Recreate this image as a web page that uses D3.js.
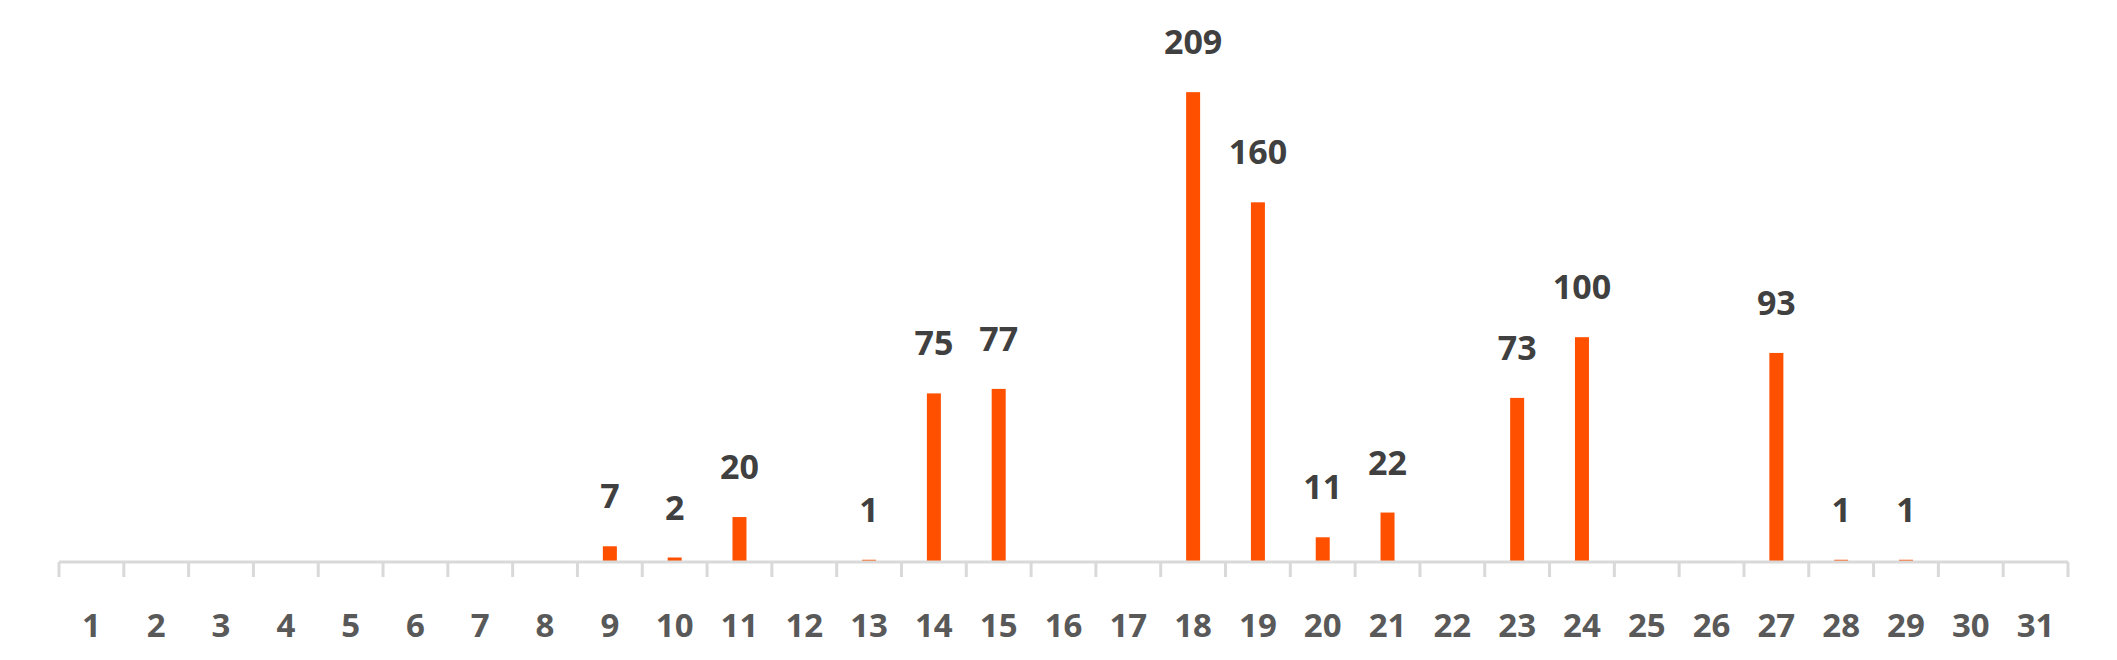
<!DOCTYPE html>
<html>

<head>
    <meta charset="UTF-8">
    <title>Daily counts</title>
    <script src="https://cdn.jsdelivr.net/npm/d3@7"></script>
    <style>
        body { margin: 0; background: #fff; }
        text { font-family: "Open Sans", sans-serif; font-weight: bold; }
    </style>
</head>

<body>
    <script>
        const days = d3.range(1, 32).map(String);
        const values = [0, 0, 0, 0, 0, 0, 0, 0, 7, 2, 20, 0, 1, 75, 77, 0, 0, 209, 160, 11, 22, 0, 73, 100, 0, 0, 93, 1, 1, 0, 0];

        const data = days.map((d, i) => ({ day: d, value: values[i] }));

        const width = 2117;
        const height = 660;
        const margin = { top: 0, right: 49, bottom: 98, left: 59 };

        const svg = d3.select('body')
            .append('svg')
            .attr('width', width)
            .attr('height', height);

        const x = d3.scaleBand()
            .domain(days)
            .range([margin.left, width - margin.right]);

        const y = d3.scaleLinear()
            .domain([0, 250])
            .range([height - margin.bottom, margin.top]);

        const barW = 14;

        svg.append('g')
            .selectAll('rect')
            .data(data.filter(d => d.value > 0))
            .join('rect')
            .attr('x', d => x(d.day) + x.bandwidth() / 2 - barW / 2)
            .attr('y', d => y(d.value))
            .attr('width', barW)
            .attr('height', d => y(0) - y(d.value))
            .attr('fill', '#ff5000');

        // axis line + ticks at band edges
        const axis = svg.append('g').attr('stroke', '#d9d9d9').attr('stroke-width', 3);
        axis.append('line')
            .attr('x1', margin.left).attr('x2', width - margin.right)
            .attr('y1', y(0)).attr('y2', y(0));
        axis.selectAll('.tick')
            .data(days.concat(['end']))
            .join('line')
            .attr('x1', (d, i) => i < days.length ? x(d) : x(days[days.length - 1]) + x.bandwidth())
            .attr('x2', (d, i) => i < days.length ? x(d) : x(days[days.length - 1]) + x.bandwidth())
            .attr('y1', y(0))
            .attr('y2', y(0) + 15);

        svg.append('g')
            .selectAll('text')
            .data(days)
            .join('text')
            .attr('x', d => x(d) + x.bandwidth() / 2)
            .attr('y', y(0) + 75)
            .attr('text-anchor', 'middle')
            .attr('font-size', 33)
            .attr('fill', '#595959')
            .text(d => d);

        svg.append('g')
            .selectAll('text')
            .data(data.filter(d => d.value > 0))
            .join('text')
            .attr('x', d => x(d.day) + x.bandwidth() / 2)
            .attr('y', d => y(d.value) - 38)
            .attr('text-anchor', 'middle')
            .attr('font-size', 34)
            .attr('fill', '#404040')
            .text(d => d.value);
    </script>
</body>

</html>
